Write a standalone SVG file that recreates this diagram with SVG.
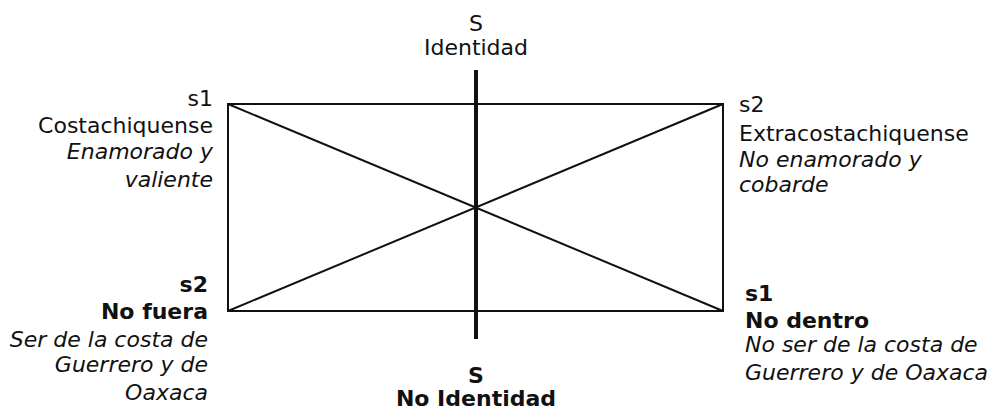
<svg xmlns="http://www.w3.org/2000/svg" width="988" height="410" viewBox="0 0 988 410">
<style>
text{font-family:"DejaVu Sans","Liberation Sans",sans-serif;font-size:22px;fill:#111}
.r{text-anchor:end}.c{text-anchor:middle}
.i{font-style:italic}.b{font-weight:bold}
.ln{stroke:#111;stroke-width:2;fill:none}
.ax{stroke:#111;stroke-width:4}
</style>
<rect width="988" height="410" fill="#fff"/>
<g id="connectors">
<rect class="ln" x="228" y="104" width="495" height="207"/>
<line class="ln" x1="228" y1="104" x2="723" y2="311"/>
<line class="ln" x1="723" y1="104" x2="228" y2="311"/>
<line class="ax" x1="476" y1="70" x2="476" y2="339"/>
</g>
<g id="top">
<text class="c" x="476" y="31">S</text>
<text class="c" x="476" y="55">Identidad</text>
</g>
<g id="s1-top">
<text class="r" x="213" y="106">s1</text>
<text class="r" x="213" y="133">Costachiquense</text>
<text class="r i" x="213" y="159">Enamorado y</text>
<text class="r i" x="213" y="187">valiente</text>
</g>
<g id="s2-top">
<text x="739" y="112">s2</text>
<text x="739" y="141">Extracostachiquense</text>
<text class="i" x="739" y="167">No enamorado y</text>
<text class="i" x="739" y="192">cobarde</text>
</g>
<g id="s2-bottom">
<text class="r b" x="208" y="292">s2</text>
<text class="r b" x="208" y="319">No fuera</text>
<text class="r i" x="208" y="347">Ser de la costa de</text>
<text class="r i" x="208" y="372">Guerrero y de</text>
<text class="r i" x="208" y="400">Oaxaca</text>
</g>
<g id="s1-bottom">
<text class="b" x="745" y="301">s1</text>
<text class="b" x="745" y="328">No dentro</text>
<text class="i" x="745" y="352">No ser de la costa de</text>
<text class="i" x="745" y="380">Guerrero y de Oaxaca</text>
</g>
<g id="bottom">
<text class="c b" x="476" y="383">S</text>
<text class="c b" x="476" y="406">No Identidad</text>
</g>
</svg>
